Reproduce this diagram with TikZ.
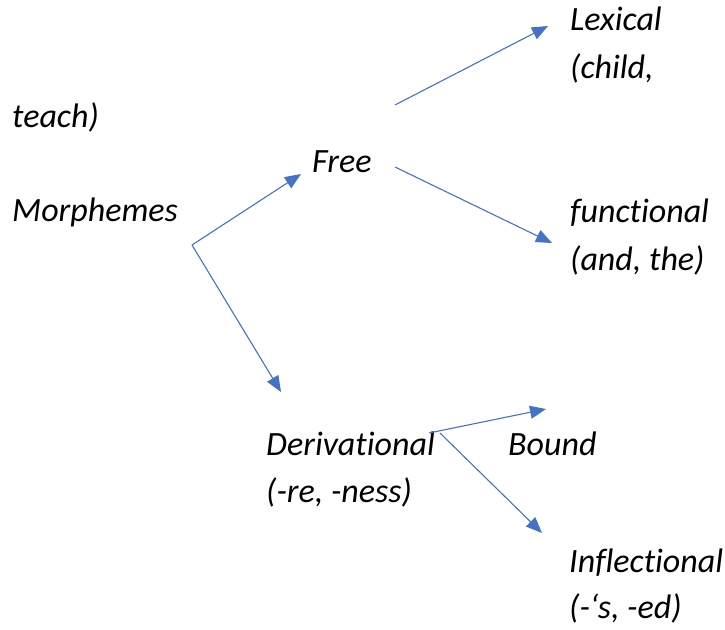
\documentclass[tikz,border=0pt]{standalone}
\usepackage{fontspec}
\setmainfont{Carlito}[Ligatures=NoCommon]
\usetikzlibrary{arrows.meta}
\definecolor{arrowblue}{RGB}{68,114,196}
\begin{document}
\begin{tikzpicture}
        [x=1pt,y=-1pt,
         word/.style={anchor=base west,inner sep=0pt,font=\fontsize{34}{40}\selectfont\itshape},
         link/.style={-{Triangle[length=16pt,width=13pt]},arrowblue,line width=1.1pt}]
        \useasboundingbox (0,0) rectangle (725,629);
        \node[word] (Lex) at (570,30) {Lexical};
        \node[word] (LexA) at (570,78) {(child,};
        \node[word] (LexB) at (12,127) {teach)};
        \node[word] (Free) at (312,172) {Free};
        \node[word] (Morph) at (12,221) {Morphemes};
        \node[word] (Func) at (570,222) {functional};
        \node[word] (FuncA) at (570,270) {(and, the)};
        \node[word] (Der) at (266,455) {Derivational};
        \node[word] (DerA) at (266,502) {(-re, -ness)};
        \node[word] (Bound) at (508,455) {Bound};
        \node[word] (Infl) at (569,572) {Inflectional};
        \node[word] (InflA) at (569,618) {(-‘s, -ed)};

        % ends of the arrows
        \coordinate (mfork) at (192,245);
        \coordinate (freein) at (301,174);
        \coordinate (derin) at (281,392);
        \coordinate (freeup) at (395,105);
        \coordinate (freedown) at (395,167);
        \coordinate (lexin) at (548,26);
        \coordinate (funcin) at (552,243);
        \coordinate (derout) at (429,433);
        \coordinate (derfork) at (440,433);
        \coordinate (boundin) at (546,409);
        \coordinate (inflin) at (542,533);

        \draw[link] (mfork) -- (freein);
        \draw[link] (mfork) -- (derin);
        \draw[link] (freeup) -- (lexin);
        \draw[link] (freedown) -- (funcin);
        \draw[link] (derout) -- (boundin);
        \draw[link] (derfork) -- (inflin);
      \end{tikzpicture}
\end{document}
